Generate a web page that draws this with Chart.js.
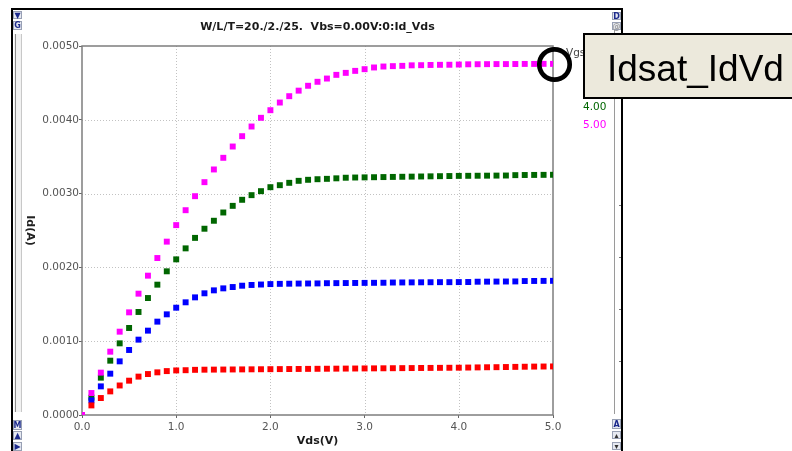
<!DOCTYPE html>
<html>
<head>
<meta charset="utf-8">
<script src="https://cdn.jsdelivr.net/npm/chart.js@4.4.0/dist/chart.umd.min.js"></script>
<style>
  html, body { margin: 0; padding: 0; background: #fff; }
  #wrap { width: 792px; height: 451px; }
</style>
</head>
<body>
<div id="wrap"><canvas id="idvd" width="792" height="451"></canvas></div>
<script>
// Vds sweep (V)
const vds = [0.0, 0.1, 0.2, 0.3, 0.4, 0.5, 0.6, 0.7, 0.8, 0.9,
             1.0, 1.1, 1.2, 1.3, 1.4, 1.5, 1.6, 1.7, 1.8, 1.9,
             2.0, 2.1, 2.2, 2.3, 2.4, 2.5, 2.6, 2.7, 2.8, 2.9,
             3.0, 3.1, 3.2, 3.3, 3.4, 3.5, 3.6, 3.7, 3.8, 3.9,
             4.0, 4.1, 4.2, 4.3, 4.4, 4.5, 4.6, 4.7, 4.8, 4.9, 5.0];

// Id in mA, one list per Vgs
const idVgs2 = [0, 0.130, 0.230, 0.320, 0.400, 0.465, 0.520, 0.555, 0.578, 0.595,
                0.604, 0.607, 0.612, 0.614, 0.615, 0.616, 0.617, 0.618, 0.619, 0.620,
                0.621, 0.622, 0.623, 0.624, 0.625, 0.626, 0.627, 0.628, 0.629, 0.630,
                0.631, 0.632, 0.633, 0.634, 0.635, 0.636, 0.637, 0.638, 0.639, 0.640,
                0.641, 0.643, 0.645, 0.647, 0.648, 0.650, 0.652, 0.654, 0.656, 0.657, 0.658];
const idVgs3 = [0, 0.199, 0.388, 0.560, 0.727, 0.881, 1.021, 1.143, 1.265, 1.364,
                1.454, 1.527, 1.594, 1.649, 1.689, 1.716, 1.734, 1.752, 1.762, 1.768,
                1.774, 1.777, 1.779, 1.781, 1.782, 1.783, 1.786, 1.787, 1.788, 1.789,
                1.790, 1.791, 1.792, 1.795, 1.796, 1.797, 1.798, 1.799, 1.800, 1.800,
                1.801, 1.802, 1.806, 1.807, 1.808, 1.809, 1.810, 1.815, 1.816, 1.817, 1.818];
const idVgs4 = [0, 0.235, 0.506, 0.736, 0.971, 1.179, 1.396, 1.585, 1.766, 1.947,
                2.109, 2.258, 2.400, 2.524, 2.632, 2.744, 2.834, 2.916, 2.979, 3.033,
                3.087, 3.114, 3.146, 3.173, 3.187, 3.195, 3.200, 3.207, 3.215, 3.218,
                3.220, 3.222, 3.224, 3.226, 3.228, 3.230, 3.232, 3.234, 3.236, 3.238,
                3.240, 3.241, 3.242, 3.243, 3.244, 3.245, 3.250, 3.252, 3.253, 3.254, 3.255];
const idVgs5 = [0, 0.298, 0.574, 0.858, 1.129, 1.391, 1.644, 1.888, 2.127, 2.349,
                2.573, 2.775, 2.965, 3.155, 3.327, 3.485, 3.638, 3.778, 3.909, 4.027,
                4.130, 4.234, 4.320, 4.395, 4.461, 4.515, 4.559, 4.609, 4.636, 4.663,
                4.686, 4.709, 4.722, 4.727, 4.731, 4.738, 4.740, 4.743, 4.745, 4.746,
                4.749, 4.752, 4.753, 4.754, 4.755, 4.755, 4.756, 4.757, 4.757, 4.758, 4.758];

const vgsLabels = ['2.00', '3.00', '4.00', '5.00'];
const vgsColors = ['#ff0000', '#0000ff', '#006600', '#ff00ff'];

const xTicks = [0.0, 1.0, 2.0, 3.0, 4.0, 5.0];
const yTicks = [0.0000, 0.0010, 0.0020, 0.0030, 0.0040, 0.0050];

const chartTitle = 'W/L/T=20./2./25.  Vbs=0.00V:0:Id_Vds';
const calloutText = 'Idsat_IdVd';

function toPoints(list) {
  return vds.map((v, i) => ({ x: v, y: list[i] / 1000 }));
}

function series(idx, list) {
  return {
    label: vgsLabels[idx],
    data: toPoints(list),
    showLine: false,
    pointStyle: 'rect',
    pointRadius: 4.2,
    pointHoverRadius: 4.2,
    borderWidth: 0,
    backgroundColor: vgsColors[idx],
    borderColor: vgsColors[idx]
  };
}

function button(ctx, x, y, w, h, glyph, color) {
  ctx.fillStyle = '#e6e9f1';
  ctx.fillRect(x, y, w, h);
  ctx.strokeStyle = '#98a0b4';
  ctx.lineWidth = 1;
  ctx.strokeRect(x + 0.5, y + 0.5, w - 1, h - 1);
  ctx.fillStyle = color;
  ctx.font = 'bold 8px "DejaVu Sans"';
  ctx.textAlign = 'center';
  ctx.textBaseline = 'middle';
  ctx.fillText(glyph, x + w / 2, y + h / 2 + 0.5);
}

const framePlugin = {
  id: 'framePlugin',
  beforeDatasetsDraw(chart) {
    const { ctx, chartArea: a, scales: { x, y } } = chart;
    ctx.save();
    // dotted grid
    ctx.strokeStyle = '#c2c2c2';
    ctx.lineWidth = 1;
    ctx.setLineDash([1, 2]);
    xTicks.slice(1, -1).forEach(v => {
      const px = Math.round(x.getPixelForValue(v)) + 0.5;
      ctx.beginPath(); ctx.moveTo(px, a.top); ctx.lineTo(px, a.bottom); ctx.stroke();
    });
    yTicks.slice(1, -1).forEach(v => {
      const py = Math.round(y.getPixelForValue(v)) + 0.5;
      ctx.beginPath(); ctx.moveTo(a.left, py); ctx.lineTo(a.right, py); ctx.stroke();
    });
    ctx.setLineDash([]);
    // plot box
    ctx.strokeStyle = '#7e7e7e';
    ctx.lineWidth = 1.5;
    ctx.strokeRect(a.left, a.top, a.right - a.left, a.bottom - a.top);
    ctx.restore();
  },
  afterDraw(chart) {
    const { ctx, chartArea: a } = chart;
    ctx.save();

    // y axis title, reads top to bottom
    ctx.save();
    ctx.translate(30, (a.top + a.bottom) / 2);
    ctx.rotate(Math.PI / 2);
    ctx.fillStyle = '#222';
    ctx.font = 'bold 11px "DejaVu Sans"';
    ctx.textAlign = 'center';
    ctx.textBaseline = 'middle';
    ctx.fillText('Id(A)', 0, 0);
    ctx.restore();

    // legend at right
    ctx.font = '10.5px "DejaVu Sans"';
    ctx.textAlign = 'left';
    ctx.textBaseline = 'middle';
    ctx.fillStyle = '#444';
    ctx.fillText('Vgs', 566, 53);
    vgsLabels.forEach((lab, i) => {
      ctx.fillStyle = vgsColors[i];
      ctx.fillText(lab, 583, 71 + i * 18);
    });

    // window frame
    ctx.fillStyle = '#f1f1f1';
    ctx.fillRect(14, 34, 8, 378);
    ctx.strokeStyle = '#8c8c8c';
    ctx.lineWidth = 1;
    ctx.beginPath(); ctx.moveTo(15.5, 34); ctx.lineTo(15.5, 412); ctx.stroke();
    ctx.strokeStyle = '#c8c8c8';
    ctx.beginPath(); ctx.moveTo(21.5, 34); ctx.lineTo(21.5, 412); ctx.stroke();
    ctx.strokeStyle = '#9a9a9a';
    ctx.beginPath(); ctx.moveTo(614.5, 30); ctx.lineTo(614.5, 414); ctx.stroke();
    ctx.strokeStyle = '#777';
    [205, 257, 309, 361].forEach(t => {
      ctx.beginPath(); ctx.moveTo(619, t + 0.5); ctx.lineTo(621, t + 0.5); ctx.stroke();
    });

    ctx.strokeStyle = '#000';
    ctx.lineWidth = 2;
    ctx.beginPath();
    ctx.moveTo(12, 451); ctx.lineTo(12, 9); ctx.lineTo(622, 9); ctx.lineTo(622, 451);
    ctx.stroke();

    button(ctx, 13, 11, 9, 8, '\u25BC', '#1c2a8c');
    button(ctx, 13, 21, 9, 9, 'G', '#1c2a8c');
    button(ctx, 13, 420, 9, 10, 'M', '#1c2a8c');
    button(ctx, 13, 431, 9, 9, '\u25B2', '#1c2a8c');
    button(ctx, 13, 442, 9, 9, '\u25B6', '#1c2a8c');
    button(ctx, 612, 12, 9, 8, 'D', '#1c2a8c');
    button(ctx, 612, 22, 9, 8, '@', '#a0a0a0');
    button(ctx, 612, 419, 9, 10, 'A', '#1c2a8c');
    button(ctx, 612, 431, 9, 8, '\u25B4', '#333');
    button(ctx, 612, 442, 9, 8, '\u25BE', '#333');

    // marker circle
    ctx.strokeStyle = '#000';
    ctx.lineWidth = 4.7;
    ctx.beginPath();
    ctx.arc(554.5, 64.5, 15.2, 0, Math.PI * 2);
    ctx.stroke();

    // callout box
    ctx.fillStyle = '#ece9dc';
    ctx.fillRect(584, 34, 210, 64);
    ctx.strokeStyle = '#000';
    ctx.lineWidth = 2;
    ctx.strokeRect(584, 34, 210, 64);
    ctx.fillStyle = '#000';
    ctx.font = '37px "Liberation Sans"';
    ctx.textAlign = 'left';
    ctx.textBaseline = 'alphabetic';
    ctx.fillText(calloutText, 607, 81);

    ctx.restore();
  }
};

const ctx = document.getElementById('idvd').getContext('2d');

new Chart(ctx, {
  type: 'scatter',
  data: {
    datasets: [
      series(3, idVgs5),
      series(0, idVgs2),
      series(1, idVgs3),
      series(2, idVgs4)
    ]
  },
  options: {
    responsive: false,
    animation: false,
    devicePixelRatio: 1,
    layout: { padding: { top: 0, left: 0, right: 239, bottom: 0 } },
    plugins: {
      legend: { display: false },
      tooltip: { enabled: false },
      title: {
        display: true,
        text: chartTitle,
        fullSize: false,
        color: '#1a1a1a',
        font: { family: 'DejaVu Sans', size: 11, weight: 'bold' },
        padding: { top: 20.4, bottom: 12.4 }
      }
    },
    scales: {
      x: {
        type: 'linear',
        min: 0,
        max: 5,
        afterFit: scale => { scale.height = 36; },
        afterBuildTicks: scale => { scale.ticks = xTicks.map(v => ({ value: v })); },
        ticks: {
          color: '#555',
          font: { family: 'DejaVu Sans', size: 10.5 },
          padding: 3,
          maxRotation: 0,
          callback: v => v.toFixed(1)
        },
        grid: { drawOnChartArea: false, drawTicks: true, tickLength: 3, color: '#666' },
        border: { display: false },
        title: {
          display: true,
          text: 'Vds(V)',
          color: '#1a1a1a',
          font: { family: 'DejaVu Sans', size: 11, weight: 'bold' },
          padding: { top: 0, bottom: 3 }
        }
      },
      y: {
        type: 'linear',
        min: 0,
        max: 0.005,
        afterFit: scale => { scale.width = 82; },
        afterBuildTicks: scale => { scale.ticks = yTicks.map(v => ({ value: v })); },
        ticks: {
          color: '#555',
          font: { family: 'DejaVu Sans', size: 10.5 },
          padding: 0,
          callback: v => v.toFixed(4)
        },
        grid: { drawOnChartArea: false, drawTicks: true, tickLength: 3, color: '#666' },
        border: { display: false }
      }
    }
  },
  plugins: [framePlugin]
});
</script>
</body>
</html>
